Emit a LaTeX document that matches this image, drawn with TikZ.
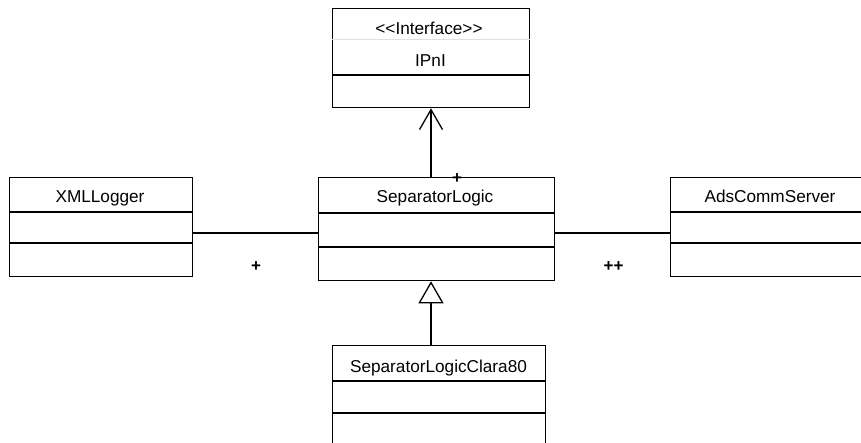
\documentclass[tikz,border=0pt]{standalone}
\usepackage{fontspec}
\setmainfont{Liberation Sans}
\usetikzlibrary{arrows.meta,calc}
\begin{document}
\begin{tikzpicture}[x=1pt,y=-1pt,
  classbox/.style={draw=black,line width=1.3pt,inner sep=0pt,anchor=north west},
  sepline/.style={draw=black,line width=1.3pt},
  lightline/.style={draw=black!12,line width=0.8pt},
  lbl/.style={inner sep=0pt,anchor=base,font=\fontsize{17.2}{20}\selectfont},
  mult/.style={inner sep=0pt,font=\fontsize{17}{18}\selectfont\bfseries},
  conn/.style={draw=black,line width=1.3pt},
  realize/.style={conn,-{Straight Barb[length=20pt,width=23pt,line width=1.3pt]}},
  generalize/.style={conn,-{Triangle[open,length=22pt,width=25pt,line width=1.3pt]}}]
\useasboundingbox (0,0) rectangle (861,443);
\fill[white] (0,0) rectangle (861,443);

% class boxes
\node[classbox,minimum width=197pt,minimum height=99pt] (ipni) at (332,8) {};
\node[classbox,minimum width=236pt,minimum height=103pt] (sep) at (318,177) {};
\node[classbox,minimum width=183pt,minimum height=99pt] (xml) at (9,177) {};
\node[classbox,minimum width=200pt,minimum height=99pt] (ads) at (670,177) {};
\node[classbox,minimum width=213pt,minimum height=112pt] (clara) at (332,345) {};

% compartments
\draw[lightline] ($(ipni.north west)+(0,31)$) -- ($(ipni.north east)+(0,31)$);
\draw[sepline] ($(ipni.north west)+(0,67)$) -- ($(ipni.north east)+(0,67)$);
\draw[sepline] ($(sep.north west)+(0,36)$) -- ($(sep.north east)+(0,36)$);
\draw[sepline] ($(sep.north west)+(0,70)$) -- ($(sep.north east)+(0,70)$);
\draw[sepline] ($(xml.north west)+(0,35)$) -- ($(xml.north east)+(0,35)$);
\draw[sepline] ($(xml.north west)+(0,66)$) -- ($(xml.north east)+(0,66)$);
\draw[sepline] ($(ads.north west)+(0,35)$) -- ($(ads.north east)+(0,35)$);
\draw[sepline] ($(ads.north west)+(0,66)$) -- ($(ads.north east)+(0,66)$);
\draw[sepline] ($(clara.north west)+(0,36)$) -- ($(clara.north east)+(0,36)$);
\draw[sepline] ($(clara.north west)+(0,68)$) -- ($(clara.north east)+(0,68)$);

% labels
\node[lbl] (tster) at (429,35) {{<}{<}Interface{>}{>}};
\node[lbl] (tipni) at (430.5,67) {IPnI};
\node[lbl] (tsep) at (435,203) {SeparatorLogic};
\node[lbl] (txml) at (100,203) {XMLLogger};
\node[lbl] (tads) at (770,203) {AdsCommServer};
\node[lbl] (tclara) at (438.5,372) {SeparatorLogicClara80};

% connectors
\coordinate (ax) at (431,0);
\coordinate (ly) at (0,233);
\draw[realize] (ax |- sep.north) -- (ax |- ipni.south);
\draw[generalize] (ax |- clara.north) -- (ax |- sep.south);
\draw[conn] (xml.east |- ly) -- (sep.west |- ly);
\draw[conn] (sep.east |- ly) -- (ads.west |- ly);

% multiplicities
\node[mult] (m1) at (457,178.5) {+};
\node[mult] (m2) at (256,267) {+};
\node[mult] (m3) at (613.5,267) {++};
\end{tikzpicture}
\end{document}
